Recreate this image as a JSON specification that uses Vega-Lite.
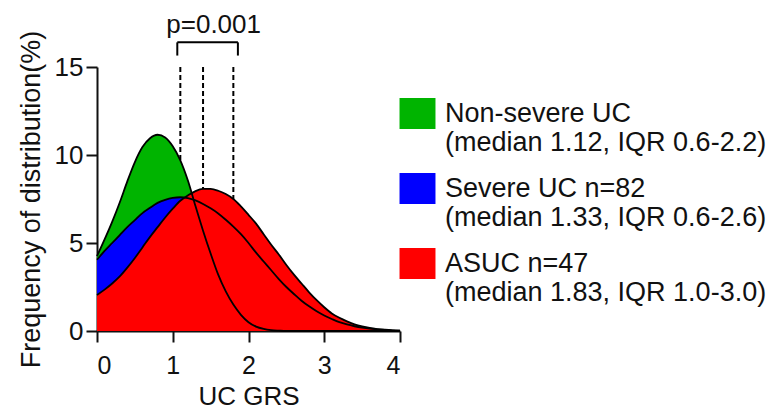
{
  "$schema": "https://vega.github.io/schema/vega-lite/v6.json",
  "width": 303,
  "height": 264,
  "autosize": "none",
  "padding": {"left": 97, "top": 67, "right": 374, "bottom": 81},
  "background": "white",
  "config": {
    "view": {"stroke": null},
    "font": "Liberation Sans",
    "axis": {
      "grid": false,
      "domainColor": "#111111",
      "domainWidth": 2,
      "tickColor": "#111111",
      "tickWidth": 2,
      "tickSize": 11,
      "labelFont": "Liberation Sans",
      "labelFontSize": 25,
      "labelColor": "#111111",
      "titleFont": "Liberation Sans",
      "titleFontSize": 26,
      "titleFontWeight": "normal",
      "titleColor": "#111111"
    }
  },
  "datasets": {
    "curves": [
      {"g": "Non-severe UC", "x": 0, "y": 4.25}, {"g": "Non-severe UC", "x": 0.1, "y": 5.2}, {"g": "Non-severe UC", "x": 0.2, "y": 6.2}, {"g": "Non-severe UC", "x": 0.3, "y": 7.3}, {"g": "Non-severe UC", "x": 0.4, "y": 8.5}, {"g": "Non-severe UC", "x": 0.5, "y": 9.6}, {"g": "Non-severe UC", "x": 0.6, "y": 10.45}, {"g": "Non-severe UC", "x": 0.7, "y": 10.95}, {"g": "Non-severe UC", "x": 0.8, "y": 11.15}, {"g": "Non-severe UC", "x": 0.9, "y": 11.0}, {"g": "Non-severe UC", "x": 1.0, "y": 10.5}, {"g": "Non-severe UC", "x": 1.1, "y": 9.7}, {"g": "Non-severe UC", "x": 1.2, "y": 8.55}, {"g": "Non-severe UC", "x": 1.3, "y": 7.1}, {"g": "Non-severe UC", "x": 1.4, "y": 5.7}, {"g": "Non-severe UC", "x": 1.5, "y": 4.4}, {"g": "Non-severe UC", "x": 1.6, "y": 3.2}, {"g": "Non-severe UC", "x": 1.7, "y": 2.25}, {"g": "Non-severe UC", "x": 1.8, "y": 1.5}, {"g": "Non-severe UC", "x": 1.9, "y": 0.92}, {"g": "Non-severe UC", "x": 2.0, "y": 0.5}, {"g": "Non-severe UC", "x": 2.1, "y": 0.25}, {"g": "Non-severe UC", "x": 2.2, "y": 0.12}, {"g": "Non-severe UC", "x": 2.3, "y": 0.05}, {"g": "Non-severe UC", "x": 2.4, "y": 0.02}, {"g": "Non-severe UC", "x": 2.5, "y": 0}, {"g": "Non-severe UC", "x": 2.6, "y": 0}, {"g": "Non-severe UC", "x": 2.8, "y": 0}, {"g": "Non-severe UC", "x": 3.0, "y": 0}, {"g": "Non-severe UC", "x": 3.5, "y": 0}, {"g": "Non-severe UC", "x": 4.0, "y": 0},
      {"g": "Severe UC n=82", "x": 0, "y": 4.05}, {"g": "Severe UC n=82", "x": 0.1, "y": 4.55}, {"g": "Severe UC n=82", "x": 0.2, "y": 5.0}, {"g": "Severe UC n=82", "x": 0.3, "y": 5.45}, {"g": "Severe UC n=82", "x": 0.4, "y": 5.9}, {"g": "Severe UC n=82", "x": 0.5, "y": 6.3}, {"g": "Severe UC n=82", "x": 0.6, "y": 6.7}, {"g": "Severe UC n=82", "x": 0.7, "y": 7.0}, {"g": "Severe UC n=82", "x": 0.8, "y": 7.28}, {"g": "Severe UC n=82", "x": 0.9, "y": 7.45}, {"g": "Severe UC n=82", "x": 1.0, "y": 7.56}, {"g": "Severe UC n=82", "x": 1.1, "y": 7.6}, {"g": "Severe UC n=82", "x": 1.2, "y": 7.55}, {"g": "Severe UC n=82", "x": 1.3, "y": 7.42}, {"g": "Severe UC n=82", "x": 1.4, "y": 7.22}, {"g": "Severe UC n=82", "x": 1.5, "y": 6.97}, {"g": "Severe UC n=82", "x": 1.6, "y": 6.68}, {"g": "Severe UC n=82", "x": 1.7, "y": 6.32}, {"g": "Severe UC n=82", "x": 1.8, "y": 5.93}, {"g": "Severe UC n=82", "x": 1.9, "y": 5.5}, {"g": "Severe UC n=82", "x": 2.0, "y": 5.0}, {"g": "Severe UC n=82", "x": 2.1, "y": 4.45}, {"g": "Severe UC n=82", "x": 2.2, "y": 3.95}, {"g": "Severe UC n=82", "x": 2.3, "y": 3.45}, {"g": "Severe UC n=82", "x": 2.4, "y": 2.95}, {"g": "Severe UC n=82", "x": 2.5, "y": 2.5}, {"g": "Severe UC n=82", "x": 2.6, "y": 2.1}, {"g": "Severe UC n=82", "x": 2.7, "y": 1.72}, {"g": "Severe UC n=82", "x": 2.8, "y": 1.4}, {"g": "Severe UC n=82", "x": 2.9, "y": 1.12}, {"g": "Severe UC n=82", "x": 3.0, "y": 0.88}, {"g": "Severe UC n=82", "x": 3.1, "y": 0.68}, {"g": "Severe UC n=82", "x": 3.2, "y": 0.5}, {"g": "Severe UC n=82", "x": 3.3, "y": 0.37}, {"g": "Severe UC n=82", "x": 3.4, "y": 0.27}, {"g": "Severe UC n=82", "x": 3.5, "y": 0.19}, {"g": "Severe UC n=82", "x": 3.6, "y": 0.13}, {"g": "Severe UC n=82", "x": 3.7, "y": 0.09}, {"g": "Severe UC n=82", "x": 3.8, "y": 0.06}, {"g": "Severe UC n=82", "x": 3.9, "y": 0.04}, {"g": "Severe UC n=82", "x": 4.0, "y": 0.02},
      {"g": "ASUC n=47", "x": 0, "y": 2.05}, {"g": "ASUC n=47", "x": 0.1, "y": 2.35}, {"g": "ASUC n=47", "x": 0.2, "y": 2.7}, {"g": "ASUC n=47", "x": 0.3, "y": 3.1}, {"g": "ASUC n=47", "x": 0.4, "y": 3.6}, {"g": "ASUC n=47", "x": 0.5, "y": 4.15}, {"g": "ASUC n=47", "x": 0.6, "y": 4.75}, {"g": "ASUC n=47", "x": 0.7, "y": 5.35}, {"g": "ASUC n=47", "x": 0.8, "y": 5.9}, {"g": "ASUC n=47", "x": 0.9, "y": 6.45}, {"g": "ASUC n=47", "x": 1.0, "y": 6.95}, {"g": "ASUC n=47", "x": 1.1, "y": 7.4}, {"g": "ASUC n=47", "x": 1.2, "y": 7.7}, {"g": "ASUC n=47", "x": 1.3, "y": 7.95}, {"g": "ASUC n=47", "x": 1.4, "y": 8.07}, {"g": "ASUC n=47", "x": 1.5, "y": 8.07}, {"g": "ASUC n=47", "x": 1.6, "y": 7.97}, {"g": "ASUC n=47", "x": 1.7, "y": 7.78}, {"g": "ASUC n=47", "x": 1.8, "y": 7.5}, {"g": "ASUC n=47", "x": 1.9, "y": 7.08}, {"g": "ASUC n=47", "x": 2.0, "y": 6.6}, {"g": "ASUC n=47", "x": 2.1, "y": 6.1}, {"g": "ASUC n=47", "x": 2.2, "y": 5.5}, {"g": "ASUC n=47", "x": 2.3, "y": 4.9}, {"g": "ASUC n=47", "x": 2.4, "y": 4.35}, {"g": "ASUC n=47", "x": 2.5, "y": 3.75}, {"g": "ASUC n=47", "x": 2.6, "y": 3.2}, {"g": "ASUC n=47", "x": 2.7, "y": 2.7}, {"g": "ASUC n=47", "x": 2.8, "y": 2.2}, {"g": "ASUC n=47", "x": 2.9, "y": 1.75}, {"g": "ASUC n=47", "x": 3.0, "y": 1.35}, {"g": "ASUC n=47", "x": 3.1, "y": 1.0}, {"g": "ASUC n=47", "x": 3.2, "y": 0.75}, {"g": "ASUC n=47", "x": 3.3, "y": 0.55}, {"g": "ASUC n=47", "x": 3.4, "y": 0.38}, {"g": "ASUC n=47", "x": 3.5, "y": 0.26}, {"g": "ASUC n=47", "x": 3.6, "y": 0.17}, {"g": "ASUC n=47", "x": 3.7, "y": 0.11}, {"g": "ASUC n=47", "x": 3.8, "y": 0.07}, {"g": "ASUC n=47", "x": 3.9, "y": 0.04}, {"g": "ASUC n=47", "x": 4.0, "y": 0.02}
    ],
    "medians": [
      {"x": 1.1, "y": 15, "y2": 9.7},
      {"x": 1.4, "y": 15, "y2": 8.07},
      {"x": 1.8, "y": 15, "y2": 7.5}
    ],
    "bracket": [
      {"x": 1.06, "x2": 1.86, "y": 16.4, "y2": 16.4},
      {"x": 1.06, "x2": 1.06, "y": 16.4, "y2": 15.65},
      {"x": 1.86, "x2": 1.86, "y": 16.4, "y2": 15.65}
    ],
    "pval": [
      {"x": 1.54, "y": 17.4, "label": "p=0.001"}
    ]
  },
  "encoding": {
    "x": {
      "field": "x", "type": "quantitative",
      "scale": {"domain": [0, 4], "nice": false, "zero": false},
      "axis": {"title": "UC GRS", "values": [0, 1, 2, 3, 4], "format": "d", "labelPadding": 11, "titlePadding": 5}
    },
    "y": {
      "field": "y", "type": "quantitative",
      "scale": {"domain": [0, 15], "nice": false},
      "axis": {"title": "Frequency of distribution(%)", "values": [0, 5, 10, 15], "format": "d", "labelPadding": 3, "labelFontSize": 26, "titlePadding": 9, "titleFontSize": 27}
    }
  },
  "layer": [
    {
      "data": {"name": "curves"},
      "transform": [{"filter": "datum.g == 'Non-severe UC'"}],
      "mark": {"type": "area", "interpolate": "monotone", "opacity": 1, "fillOpacity": 1},
      "encoding": {
        "y": {"field": "y", "type": "quantitative", "stack": null},
        "color": {
          "field": "g", "type": "nominal",
          "scale": {"domain": ["Non-severe UC", "Severe UC n=82", "ASUC n=47"], "range": ["#00B400", "#0000FF", "#FF0000"]},
          "legend": {
            "orient": "none", "legendX": 305, "legendY": 18, "title": null,
            "symbolType": "M-1.16,-0.16H1.16V1.84H-1.16Z", "symbolSize": 961,
            "symbolStrokeWidth": 0, "symbolOpacity": 1,
            "labelFont": "Liberation Sans", "labelFontSize": 27, "labelColor": "#111111",
            "labelLimit": 500, "labelOffset": 12, "labelBaseline": "top", "rowPadding": 4, "padding": 0,
            "labelExpr": "[datum.label, datum.label == 'Non-severe UC' ? '(median 1.12, IQR 0.6-2.2)' : datum.label == 'Severe UC n=82' ? '(median 1.33, IQR 0.6-2.6)' : '(median 1.83, IQR 1.0-3.0)']"
          }
        }
      }
    },
    {
      "data": {"name": "curves"},
      "transform": [{"filter": "datum.g == 'Severe UC n=82'"}],
      "mark": {"type": "area", "interpolate": "monotone", "opacity": 1, "fillOpacity": 1},
      "encoding": {
        "y": {"field": "y", "type": "quantitative", "stack": null},
        "color": {"field": "g", "type": "nominal"}
      }
    },
    {
      "data": {"name": "curves"},
      "transform": [{"filter": "datum.g == 'ASUC n=47'"}],
      "mark": {"type": "area", "interpolate": "monotone", "opacity": 1, "fillOpacity": 1},
      "encoding": {
        "y": {"field": "y", "type": "quantitative", "stack": null},
        "color": {"field": "g", "type": "nominal"}
      }
    },
    {
      "data": {"name": "curves"},
      "mark": {"type": "line", "interpolate": "monotone", "color": "#000000", "strokeWidth": 1.8},
      "encoding": {
        "detail": {"field": "g", "type": "nominal"}
      }
    },
    {
      "data": {"name": "medians"},
      "mark": {"type": "rule", "color": "#000000", "strokeWidth": 2, "strokeDash": [5, 3]},
      "encoding": {
        "y2": {"field": "y2"}
      }
    },
    {
      "data": {"name": "bracket"},
      "mark": {"type": "rule", "color": "#000000", "strokeWidth": 2},
      "encoding": {
        "x2": {"field": "x2"},
        "y2": {"field": "y2"}
      }
    },
    {
      "data": {"name": "pval"},
      "mark": {"type": "text", "font": "Liberation Sans", "fontSize": 26, "color": "#111111", "align": "center", "baseline": "middle"},
      "encoding": {
        "text": {"field": "label"}
      }
    }
  ]
}
